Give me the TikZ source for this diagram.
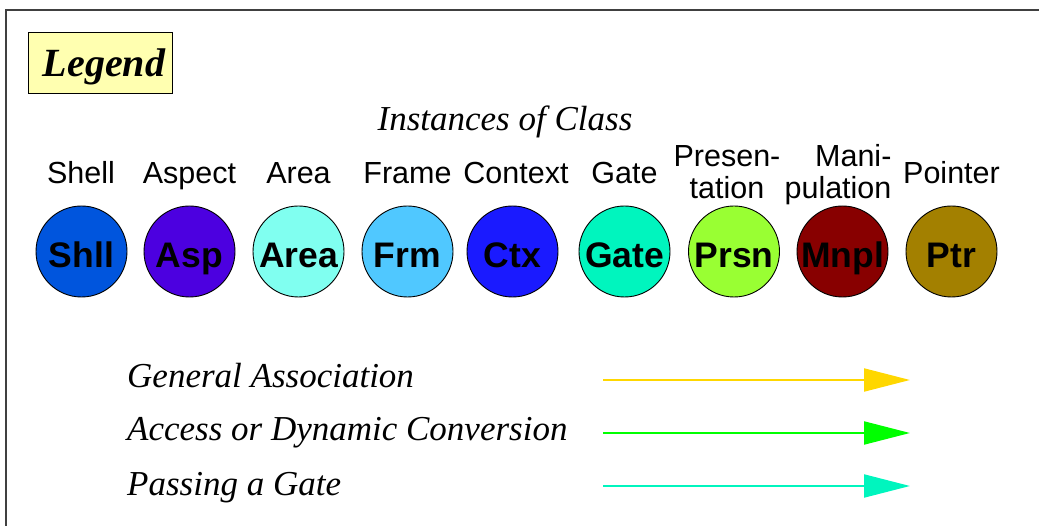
\documentclass[tikz,border=0pt]{standalone}
\usepackage{fontspec}
\setmainfont{Liberation Serif}
\setsansfont{Liberation Sans}
\usetikzlibrary{arrows.meta}

\definecolor{shllcol}{RGB}{0,85,221}
\definecolor{aspcol}{RGB}{76,0,224}
\definecolor{areacol}{RGB}{128,255,240}
\definecolor{frmcol}{RGB}{80,200,255}
\definecolor{ctxcol}{RGB}{26,26,255}
\definecolor{gatecol}{RGB}{0,245,190}
\definecolor{prsncol}{RGB}{153,255,51}
\definecolor{mnplcol}{RGB}{136,0,0}
\definecolor{ptrcol}{RGB}{163,128,0}
\definecolor{legendcol}{RGB}{255,255,176}
\definecolor{assoccol}{RGB}{255,215,0}
\definecolor{accesscol}{RGB}{0,255,0}
\definecolor{passcol}{RGB}{0,245,190}

\begin{document}
\begin{tikzpicture}[x=1pt, y=-1pt,
    inst/.style={circle, draw=black, line width=0.9pt, minimum size=91pt, inner sep=0pt, text height=32pt, text depth=0pt, font=\sffamily\bfseries\fontsize{35.5}{37}\selectfont},
    cls/.style={anchor=south, text depth=0pt, inner sep=0pt, align=center, font=\sffamily\fontsize{30.5}{32}\selectfont},
    caption/.style={anchor=base west, inner sep=0pt, font=\itshape\fontsize{35}{37}\selectfont},
    assoc/.style={line width=2pt, -{Triangle[length=46pt, width=23pt]}}
]
\useasboundingbox (0,0) rectangle (1039,526);

% Frame
\draw[line width=2pt, draw=black!75] (6,530) -- (6,10) -- (1045,10);

% Title
\node[draw=black, thick, fill=legendcol, minimum width=144pt, minimum height=61pt, inner sep=0pt,
      text height=29pt, text depth=0pt, font=\bfseries\itshape\fontsize{40}{42}\selectfont] (legend) at (100,62.5) {\hspace{8pt}Legend};
\node[anchor=base, inner sep=0pt, font=\itshape\fontsize{35}{37}\selectfont] (instances) at (505,131) {Instances of Class};

% Class labels
\node[cls] (shelllbl) at (81,184) {Shell};
\node[cls] (aspectlbl) at (189.5,184) {Aspect};
\node[cls] (arealbl) at (298.5,184) {Area};
\node[cls] (framelbl) at (407.5,184) {Frame};
\node[cls] (contextlbl) at (516,184) {Context};
\node[cls] (gatelbl) at (624.5,184) {Gate};
\node[cls] (prsnlbl) at (727,199) {Presen-\\tation};
\node[cls, align=right] (mnpllbl) at (838,199) {Mani-\\pulation};
\node[cls] (pointerlbl) at (951.5,184) {Pointer};

% Instances
\node[inst, fill=shllcol] (shll) at (81.5,251.5) {Shll};
\node[inst, fill=aspcol] (asp) at (189.5,251.5) {Asp};
\node[inst, fill=areacol] (area) at (298.5,251.5) {Area};
\node[inst, fill=frmcol] (frm) at (407.5,251.5) {Frm};
\node[inst, fill=ctxcol] (ctx) at (512.5,251.5) {Ctx};
\node[inst, fill=gatecol] (gate) at (624.5,251.5) {Gate};
\node[inst, fill=prsncol] (prsn) at (734,251.5) {Prsn};
\node[inst, fill=mnplcol] (mnpl) at (842.5,251.5) {Mnpl};
\node[inst, fill=ptrcol] (ptr) at (951.5,251.5) {Ptr};

% Associations
\node[caption] (assoclbl) at (127,388) {General Association};
\node[caption] (accesslbl) at (127,441) {Access or Dynamic Conversion};
\node[caption] (passlbl) at (127,495) {Passing a Gate};

\coordinate (assocstart) at (603,380);
\coordinate (assocend) at (910,380);
\coordinate (accessstart) at (603,433);
\coordinate (accessend) at (910,433);
\coordinate (passstart) at (603,486);
\coordinate (passend) at (910,486);

\draw[assoc, draw=assoccol, fill=assoccol] (assocstart) -- (assocend);
\draw[assoc, draw=accesscol, fill=accesscol] (accessstart) -- (accessend);
\draw[assoc, draw=passcol, fill=passcol] (passstart) -- (passend);

\end{tikzpicture}
\end{document}
